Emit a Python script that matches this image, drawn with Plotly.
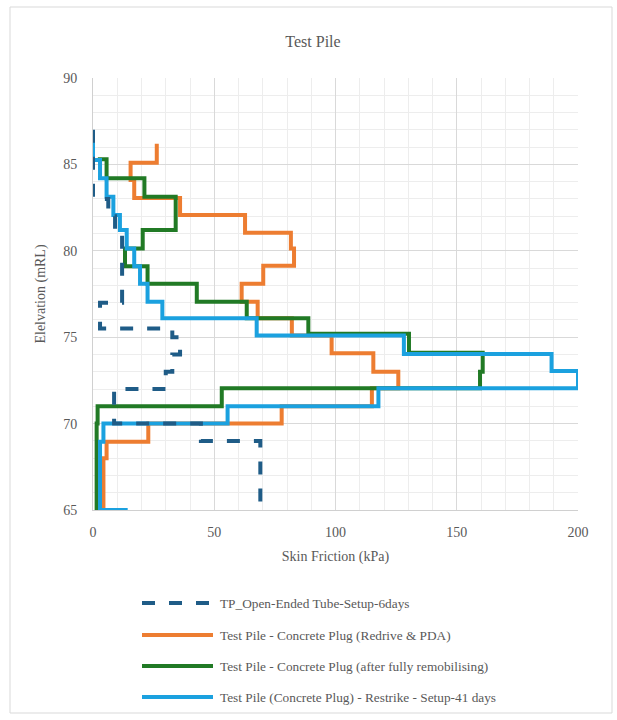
import plotly.graph_objects as go

# ---- Skin friction profiles (kPa) against elevation (mRL) ----
# Each skin value applies from its elevation down to the next one (stepped profile).
tube_elev = [87.0, 83.0, 82.0, 81.0, 77.0, 75.5, 75.0, 74.0, 73.0, 72.0, 70.0, 69.0, 65.0]
tube_skin = [0.0, 6.3, 9.1, 12.0, 2.9, 32.7, 35.9, 32.7, 30.0, 8.7, 44.5, 69.0, 69.0]

redrive_elev = [86.2, 85.1, 84.1, 83.05, 82.07, 81.05, 80.14, 79.14, 78.1, 77.05, 76.1,
                75.1, 74.07, 73.0, 72.04, 71.0, 70.0, 68.95, 68.0, 65.0]
redrive_skin = [26.3, 15.5, 17.0, 35.9, 62.7, 81.6, 82.9, 70.2, 61.3, 67.9, 82.0,
                98.4, 115.6, 125.9, 115.0, 77.8, 22.8, 5.6, 4.3, 4.3]

remob_elev = [85.3, 85.3, 84.2, 83.13, 81.2, 80.14, 79.1, 78.1, 77.05, 76.1, 75.2,
              74.1, 73.0, 72.04, 71.0, 70.0, 65.0]
remob_skin = [2.0, 5.6, 21.2, 34.1, 20.5, 13.2, 22.5, 42.8, 63.4, 88.8, 130.3,
              160.7, 159.6, 53.1, 1.9, 1.5, 1.5]

restrike_elev = [86.3, 85.25, 84.2, 83.13, 82.07, 81.2, 80.14, 79.1, 78.1, 77.05, 76.1,
                 75.1, 74.03, 73.04, 72.04, 71.0, 70.0, 68.95, 65.0]
restrike_skin = [0.0, 2.9, 5.6, 8.4, 11.1, 13.9, 17.0, 19.4, 22.5, 28.6, 67.5,
                 128.2, 189.1, 200.0, 117.7, 55.5, 4.3, 2.9, 14.3]

series_names = [
    "TP_Open-Ended Tube-Setup-6days",
    "Test Pile - Concrete Plug (Redrive & PDA)",
    "Test Pile - Concrete Plug (after fully remobilising)",
    "Test Pile (Concrete Plug) - Restrike - Setup-41 days",
]

C_TUBE = "#1F5C87"
C_REDRIVE = "#ED7D31"
C_REMOB = "#217A25"
C_RESTRIKE = "#1BA1DF"
TEXT = "#595959"
FONT = "Liberation Serif, DejaVu Serif, serif"
LW = 4

fig = go.Figure()

def add_profile(skin, elev, name, color, dash="solid"):
    fig.add_trace(go.Scatter(
        x=skin, y=elev, mode="lines", name=name, showlegend=False,
        line=dict(color=color, width=LW, shape="vh", dash=dash),
        hoverinfo="x+y+name",
    ))

# drawing order: later traces sit on top
add_profile(redrive_skin, redrive_elev, series_names[1], C_REDRIVE)
add_profile(remob_skin, remob_elev, series_names[2], C_REMOB)
add_profile(restrike_skin, restrike_elev, series_names[3], C_RESTRIKE)
add_profile(tube_skin, tube_elev, series_names[0], C_TUBE, dash="13px,14px")

# ---- plot-area geometry (pixels) ----
W, H = 617, 720
L, R, T, B = 93, 39, 78, 210
pw, ph = W - L - R, H - T - B

def px_to_paper_x(px):
    return (px - L) / pw

def px_to_paper_y(py):
    return (H - B - py) / ph

shapes = []
annotations = []

# outer chart frame
shapes.append(dict(
    type="rect", xref="paper", yref="paper", layer="below",
    x0=px_to_paper_x(10), x1=px_to_paper_x(612),
    y0=px_to_paper_y(713), y1=px_to_paper_y(7),
    line=dict(color="#D9D9D9", width=1), fillcolor="rgba(0,0,0,0)",
))

# legend drawn below the axes, one row per series
legend_rows = [603, 635, 666, 697]
legend_styles = [(C_TUBE, "13px,14px"), (C_REDRIVE, "solid"), (C_REMOB, "solid"), (C_RESTRIKE, "solid")]
for name, py, (col, dash) in zip(series_names, legend_rows, legend_styles):
    shapes.append(dict(
        type="line", xref="paper", yref="paper",
        x0=px_to_paper_x(142), x1=px_to_paper_x(213),
        y0=px_to_paper_y(py), y1=px_to_paper_y(py),
        line=dict(color=col, width=LW, dash=dash),
    ))
    annotations.append(dict(
        xref="paper", yref="paper", x=px_to_paper_x(218), y=px_to_paper_y(py),
        text=name, showarrow=False, xanchor="left", yanchor="middle",
        font=dict(family=FONT, size=13.3, color=TEXT),
    ))

fig.update_layout(
    width=W, height=H,
    margin=dict(l=L, r=R, t=T, b=B, pad=0),
    paper_bgcolor="white", plot_bgcolor="white",
    title=dict(text="Test Pile", x=313 / W, xref="container", xanchor="center",
               y=1 - 41 / H, yref="container", yanchor="middle",
               font=dict(family=FONT, size=16, color=TEXT)),
    font=dict(family=FONT, size=14, color=TEXT),
    shapes=shapes, annotations=annotations,
    showlegend=False,
)

fig.update_xaxes(
    range=[0, 200], tickmode="linear", tick0=0, dtick=50,
    showgrid=True, gridcolor="#D9D9D9", gridwidth=1,
    minor=dict(dtick=10, showgrid=True, gridcolor="#EDEDED", gridwidth=1),
    showline=True, linecolor="#D0D0D0", linewidth=1,
    zeroline=False, ticks="", ticklabelstandoff=9,
    tickfont=dict(family=FONT, size=14, color=TEXT),
    title=dict(text="Skin Friction (kPa)", standoff=12,
               font=dict(family=FONT, size=14, color=TEXT)),
)
fig.update_yaxes(
    range=[65, 90], tickmode="linear", tick0=65, dtick=5,
    showgrid=True, gridcolor="#D9D9D9", gridwidth=1,
    minor=dict(dtick=1, showgrid=True, gridcolor="#EDEDED", gridwidth=1),
    showline=True, linecolor="#D0D0D0", linewidth=1,
    zeroline=False, ticks="", ticklabelstandoff=12,
    tickfont=dict(family=FONT, size=14, color=TEXT),
    title=dict(text="Elelvation (mRL)", standoff=14,
               font=dict(family=FONT, size=14, color=TEXT)),
)

fig.write_html("out.html")
